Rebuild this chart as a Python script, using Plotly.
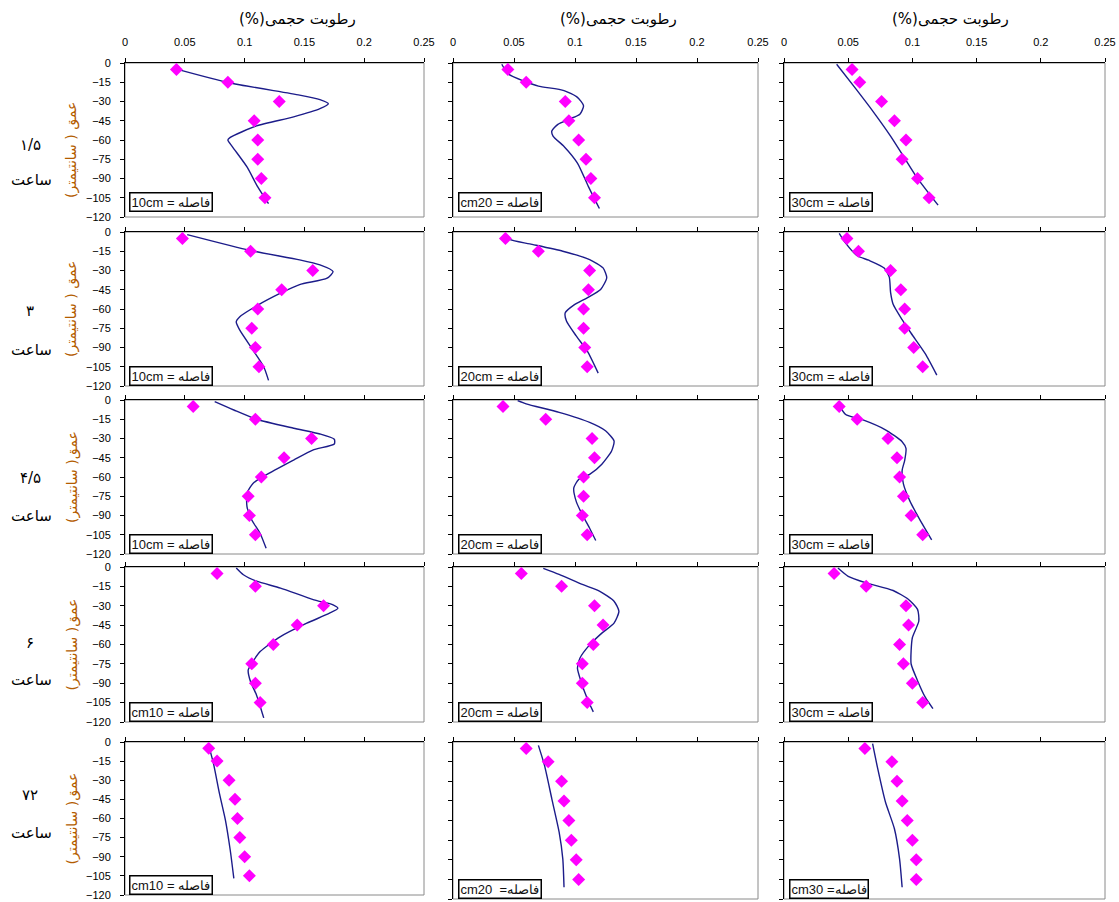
import plotly.graph_objects as go

# ---------------- data ----------------
depths_obs = [-5, -15, -30, -45, -60, -75, -90, -105]
x_ticks = [0, 0.05, 0.1, 0.15, 0.2, 0.25]
y_ticks = [0, -15, -30, -45, -60, -75, -90, -105, -120]

row_times = ["۱/۵", "۳", "۴/۵", "۶", "۷۲"]
col_spacing = ["10cm", "20cm", "30cm"]

# Row 1: 1.5 h
obs_r1_c1 = [0.043, 0.086, 0.129, 0.108, 0.111, 0.111, 0.114, 0.117]
sim_r1_c1_x = [0.040, 0.088, 0.146, 0.163, 0.170, 0.163, 0.141, 0.110, 0.088, 0.086, 0.090, 0.102, 0.111, 0.120]
sim_r1_c1_d = [-4, -15.6, -25, -28.6, -31.7, -35.6, -42, -49, -58, -60, -65.5, -81, -96.6, -109.6]
obs_r1_c2 = [0.045, 0.060, 0.092, 0.095, 0.103, 0.109, 0.113, 0.116]
sim_r1_c2_x = [0.040, 0.045, 0.059, 0.070, 0.091, 0.102, 0.107, 0.104, 0.095, 0.086, 0.081, 0.082, 0.091, 0.102, 0.111, 0.120]
sim_r1_c2_d = [-1, -8.4, -14.4, -18, -21.5, -26.8, -33.3, -39.9, -43.8, -47.8, -53, -57, -65, -78, -96.3, -113.4]
obs_r1_c3 = [0.053, 0.059, 0.076, 0.086, 0.095, 0.092, 0.104, 0.113]
sim_r1_c3_x = [0.041, 0.056, 0.069, 0.083, 0.093, 0.103, 0.120]
sim_r1_c3_d = [-1, -20.2, -37.3, -57, -72.7, -88.5, -110.8]

# Row 2: 3 h
obs_r2_c1 = [0.048, 0.105, 0.157, 0.131, 0.111, 0.106, 0.109, 0.112]
sim_r2_c1_x = [0.052, 0.105, 0.146, 0.163, 0.174, 0.169, 0.146, 0.130, 0.110, 0.096, 0.093, 0.096, 0.107, 0.116, 0.120]
sim_r2_c1_d = [-2, -14.4, -21.7, -25.6, -30.8, -36, -41, -47.7, -57.6, -66, -70, -76.5, -92, -105, -115.6]
obs_r2_c2 = [0.043, 0.070, 0.112, 0.111, 0.107, 0.107, 0.108, 0.110]
sim_r2_c2_x = [0.043, 0.047, 0.063, 0.090, 0.112, 0.123, 0.126, 0.121, 0.110, 0.099, 0.092, 0.093, 0.101, 0.110, 0.119]
sim_r2_c2_d = [-2, -6, -9.3, -15, -21.5, -28, -35.7, -44.8, -51.3, -57, -63, -69.4, -81, -92.7, -110]
obs_r2_c3 = [0.049, 0.058, 0.083, 0.091, 0.094, 0.094, 0.101, 0.108]
sim_r2_c3_x = [0.043, 0.048, 0.057, 0.066, 0.078, 0.082, 0.083, 0.085, 0.092, 0.099, 0.110, 0.119]
sim_r2_c3_d = [-1, -8.7, -18.5, -22, -28, -35.2, -47, -56.3, -68.3, -78.9, -94.8, -111.5]

# Row 3: 4.5 h
obs_r3_c1 = [0.057, 0.109, 0.156, 0.133, 0.114, 0.103, 0.104, 0.109]
sim_r3_c1_x = [0.075, 0.091, 0.110, 0.141, 0.163, 0.175, 0.175, 0.157, 0.141, 0.118, 0.107, 0.102, 0.102, 0.106, 0.113, 0.118]
sim_r3_c1_d = [-1.3, -7.8, -15, -22, -26.5, -30.6, -34.3, -39, -46.8, -58.4, -65, -72.7, -83, -93.5, -104, -115.6]
obs_r3_c2 = [0.041, 0.076, 0.114, 0.116, 0.107, 0.107, 0.106, 0.110]
sim_r3_c2_x = [0.053, 0.060, 0.087, 0.112, 0.125, 0.132, 0.130, 0.122, 0.112, 0.103, 0.099, 0.101, 0.106, 0.112, 0.117]
sim_r3_c2_d = [-0.5, -3, -9.7, -17.5, -24, -31.9, -39.7, -50, -58, -62, -68.5, -79, -89.4, -99.9, -109.5]
obs_r3_c3 = [0.043, 0.057, 0.081, 0.088, 0.090, 0.093, 0.099, 0.108]
sim_r3_c3_x = [0.043, 0.048, 0.061, 0.079, 0.092, 0.095, 0.094, 0.092, 0.093, 0.098, 0.105, 0.115]
sim_r3_c3_d = [-4, -11.3, -15.3, -23.2, -32.5, -37.7, -47, -54.9, -65.4, -78.6, -91.8, -109]

# Row 4: 6 h
obs_r4_c1 = [0.077, 0.109, 0.166, 0.144, 0.124, 0.106, 0.109, 0.113]
sim_r4_c1_x = [0.093, 0.099, 0.110, 0.130, 0.158, 0.174, 0.178, 0.171, 0.152, 0.130, 0.113, 0.106, 0.103, 0.105, 0.110, 0.116]
sim_r4_c1_d = [-0.8, -6, -11, -16.3, -25.4, -29.3, -31.9, -35.8, -43.5, -53.9, -65.5, -74.6, -79.8, -88.9, -99.2, -116.8]
obs_r4_c2 = [0.056, 0.089, 0.116, 0.123, 0.115, 0.106, 0.106, 0.110]
sim_r4_c2_x = [0.074, 0.087, 0.106, 0.120, 0.132, 0.136, 0.132, 0.122, 0.112, 0.104, 0.102, 0.105, 0.110, 0.115]
sim_r4_c2_d = [-1, -5.7, -13.5, -18.7, -26.5, -34.3, -43.4, -51.2, -60.3, -70.6, -78.4, -88.8, -101.8, -112.2]
obs_r4_c3 = [0.039, 0.064, 0.095, 0.097, 0.090, 0.093, 0.100, 0.108]
sim_r4_c3_x = [0.042, 0.050, 0.064, 0.085, 0.097, 0.104, 0.105, 0.100, 0.099, 0.099, 0.104, 0.110, 0.116]
sim_r4_c3_d = [-0.8, -7.2, -12.3, -18.2, -25.1, -32.8, -41.8, -54.6, -64.9, -75.1, -88, -100.8, -109.7]

# Row 5: 72 h
obs_r5_c1 = [0.070, 0.077, 0.087, 0.092, 0.094, 0.096, 0.100, 0.104]
sim_r5_c1_x = [0.070, 0.074, 0.079, 0.084, 0.088, 0.091]
sim_r5_c1_d = [-2.6, -17, -40.5, -61.4, -84.9, -107]
obs_r5_c2 = [0.060, 0.078, 0.089, 0.091, 0.095, 0.097, 0.101, 0.103]
sim_r5_c2_x = [0.070, 0.075, 0.081, 0.087, 0.090, 0.091]
sim_r5_c2_d = [-2.6, -17.9, -43.4, -68.9, -89.3, -111]
obs_r5_c3 = [0.063, 0.084, 0.088, 0.092, 0.096, 0.100, 0.103, 0.103]
sim_r5_c3_x = [0.069, 0.073, 0.079, 0.086, 0.090, 0.092]
sim_r5_c3_d = [-1.3, -20.4, -45.9, -66.3, -89.3, -111]

box_labels = [
    ["10cm = فاصله", "cm20 = فاصله", "30cm = فاصله"],
    ["10cm = فاصله", "20cm = فاصله", "30cm = فاصله"],
    ["10cm = فاصله", "20cm = فاصله", "30cm = فاصله"],
    ["cm10 = فاصله", "20cm = فاصله", "30cm = فاصله"],
    ["cm10 = فاصله", "cm20  =فاصله", "cm30 =فاصله"],
]
y_titles = ["عمق ( سانتیمتر)", "عمق ( سانتیمتر)", "عمق( سانتیمتر)", "عمق( سانتیمتر)", "عمق( سانتیمتر)"]
x_title = "(%)رطوبت حجمی"
hour_word = "ساعت"

panels = [
    [(obs_r1_c1, sim_r1_c1_x, sim_r1_c1_d), (obs_r1_c2, sim_r1_c2_x, sim_r1_c2_d), (obs_r1_c3, sim_r1_c3_x, sim_r1_c3_d)],
    [(obs_r2_c1, sim_r2_c1_x, sim_r2_c1_d), (obs_r2_c2, sim_r2_c2_x, sim_r2_c2_d), (obs_r2_c3, sim_r2_c3_x, sim_r2_c3_d)],
    [(obs_r3_c1, sim_r3_c1_x, sim_r3_c1_d), (obs_r3_c2, sim_r3_c2_x, sim_r3_c2_d), (obs_r3_c3, sim_r3_c3_x, sim_r3_c3_d)],
    [(obs_r4_c1, sim_r4_c1_x, sim_r4_c1_d), (obs_r4_c2, sim_r4_c2_x, sim_r4_c2_d), (obs_r4_c3, sim_r4_c3_x, sim_r4_c3_d)],
    [(obs_r5_c1, sim_r5_c1_x, sim_r5_c1_d), (obs_r5_c2, sim_r5_c2_x, sim_r5_c2_d), (obs_r5_c3, sim_r5_c3_x, sim_r5_c3_d)],
]

# ---------------- layout geometry (window pixels) ----------------
W, H = 1119, 902
col_px = [(125, 424), (453, 758), (784, 1105)]
row_px = [(63, 217), (232, 386), (400, 554), (567, 722), (742, 895)]
row5_bottom_px = [895, 899, 899]
title_x_px = [297, 618, 950]
time_y_px = [145, 311, 478, 643, 795]
hour_y_px = [180, 350, 516, 680, 833]

def clamp(v):
    return min(1.0, max(0.0, v))

def px_x(p):
    return clamp(p / W)

def px_y(p):
    return clamp(1 - p / H)

fig = go.Figure()
layout = dict(
    width=W, height=H,
    margin=dict(l=0, r=0, t=0, b=0, autoexpand=False),
    paper_bgcolor="white", plot_bgcolor="white",
    showlegend=False,
    font=dict(family="Liberation Sans, Arial, sans-serif", size=11, color="black"),
)
shapes = []
annotations = []

AR_FONT = "DejaVu Sans, Noto Sans, sans-serif"

k = 0
for r in range(5):
    for c in range(3):
        k += 1
        xs = "" if k == 1 else str(k)
        xname, yname = "x" + xs, "y" + xs
        obs, sx, sd = panels[r][c]
        top_px = row_px[r][0]
        bot_px = row5_bottom_px[c] if r == 4 else row_px[r][1]
        fig.add_trace(go.Scatter(
            x=sx, y=sd, mode="lines", xaxis=xname, yaxis=yname,
            line=dict(color="#1c1c8a", width=1.4, shape="spline", smoothing=0.6),
            hoverinfo="skip"))
        fig.add_trace(go.Scatter(
            x=obs, y=depths_obs, mode="markers", xaxis=xname, yaxis=yname,
            marker=dict(symbol="diamond", size=10, color="#ff00ff", line=dict(width=0)),
            hoverinfo="skip"))
        layout["xaxis" + xs] = dict(
            domain=[px_x(col_px[c][0]), px_x(col_px[c][1])],
            anchor=yname, side="top", range=[0, 0.25],
            tickmode="array", tickvals=x_ticks, ticktext=["0", "0.05", "0.1", "0.15", "0.2", "0.25"],
            ticks="outside", ticklen=4, tickcolor="black", tickwidth=1,
            ticklabelstandoff=8,
            showline=True, linecolor="black", linewidth=1,
            showgrid=False, zeroline=False,
            showticklabels=(r == 0), tickfont=dict(size=11, color="black"))
        layout["yaxis" + xs] = dict(
            domain=[px_y(bot_px), px_y(top_px)],
            anchor=xname, range=[-120, 0],
            tickmode="array", tickvals=y_ticks,
            ticks="outside", ticklen=4, tickcolor="black", tickwidth=1,
            ticklabelstandoff=7,
            showline=True, linecolor="black", linewidth=1,
            showgrid=False, zeroline=False,
            showticklabels=(c == 0), tickfont=dict(size=11, color="black"))
        shapes.append(dict(type="rect", xref=xname + " domain", yref=yname + " domain",
                           x0=0, x1=1, y0=0, y1=1, line=dict(color="#8a8a8a", width=1),
                           layer="below"))
        annotations.append(dict(
            text=box_labels[r][c], xref=xname + " domain", yref=yname + " domain",
            x=0.015, y=0.0 if r > 0 else 0.03, xanchor="left", yanchor="bottom",
            showarrow=False, font=dict(family="Liberation Sans, Arial, sans-serif", size=13, color="#111111"),
            bgcolor="white", bordercolor="black", borderwidth=1.5, borderpad=1))

# column titles
for c in range(3):
    annotations.append(dict(text=x_title, xref="paper", yref="paper",
                            x=px_x(title_x_px[c]), y=px_y(19), xanchor="center", yanchor="middle",
                            showarrow=False, font=dict(family=AR_FONT, size=15, color="black")))

# row labels and y titles
for r in range(5):
    annotations.append(dict(text=row_times[r], xref="paper", yref="paper",
                            x=px_x(30), y=px_y(time_y_px[r]), xanchor="center", yanchor="middle",
                            showarrow=False, font=dict(family=AR_FONT, size=15, color="black")))
    annotations.append(dict(text=hour_word, xref="paper", yref="paper",
                            x=px_x(31), y=px_y(hour_y_px[r]), xanchor="center", yanchor="middle",
                            showarrow=False, font=dict(family=AR_FONT, size=15, color="black")))
    yc = (row_px[r][0] + row_px[r][1]) / 2 + (10 if r == 0 else 0)
    annotations.append(dict(text="\u202b" + y_titles[r] + "\u202c", xref="paper", yref="paper",
                            x=px_x(72), y=px_y(yc), xanchor="center", yanchor="middle",
                            textangle=-90, showarrow=False,
                            font=dict(family=AR_FONT, size=14, color="#b35c00")))

layout["shapes"] = shapes
layout["annotations"] = annotations
fig.update_layout(**layout)
fig.write_html("out.html", config={"displayModeBar": False},
               post_script="document.body.style.margin='0px';document.body.style.overflow='hidden';")
